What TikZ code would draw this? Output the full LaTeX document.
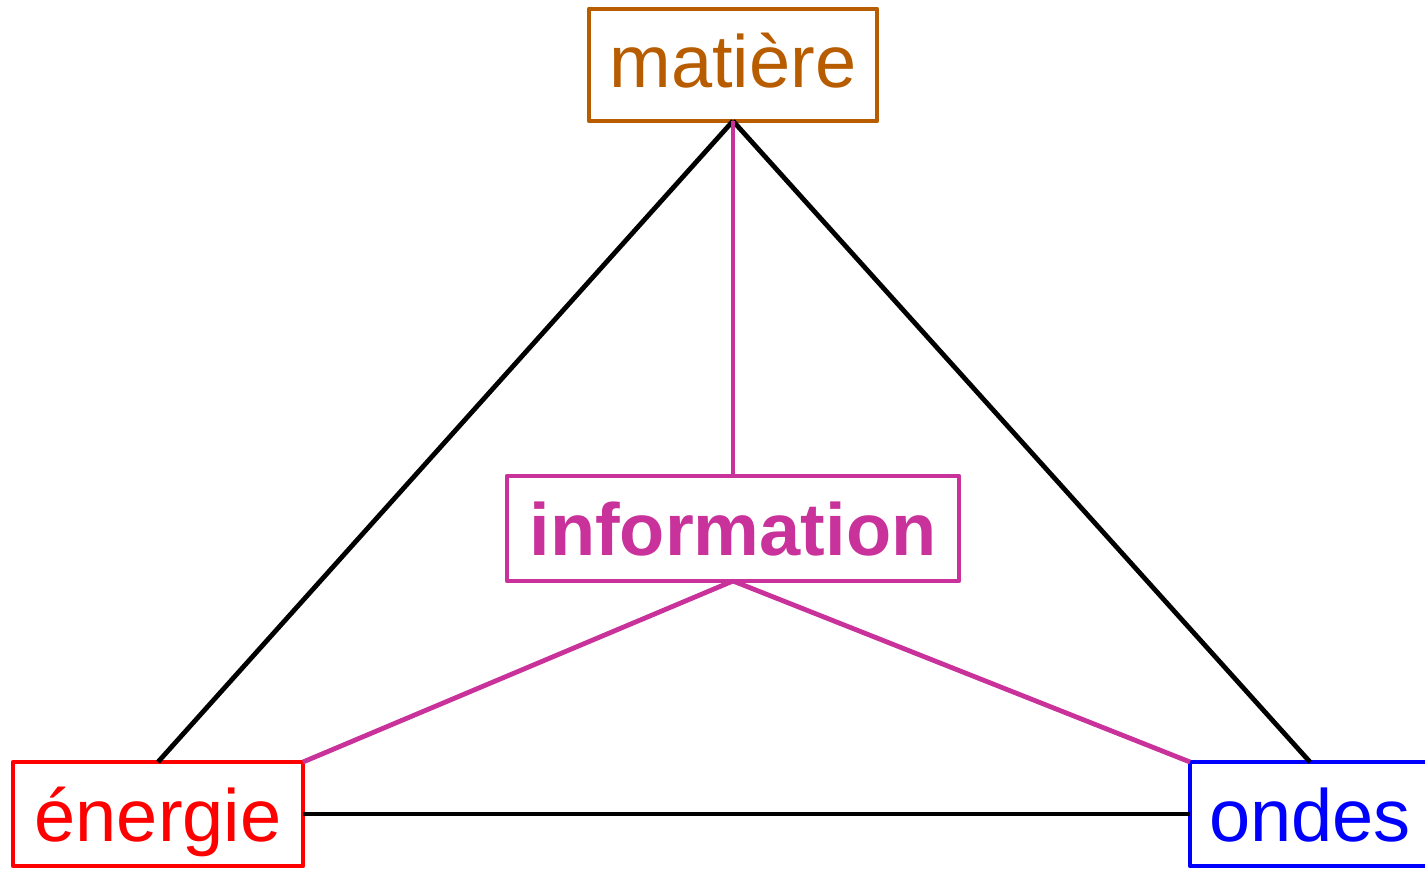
\documentclass[tikz,border=0pt]{standalone}
\usepackage{fontspec}
\setmainfont{Liberation Sans}
\definecolor{brun}{RGB}{184,92,0}
\definecolor{mag}{RGB}{200,50,154}
\definecolor{rouge}{RGB}{255,0,0}
\definecolor{bleu}{RGB}{0,0,255}
\begin{document}
\begin{tikzpicture}[x=0.5pt,y=-0.5pt,
  box/.style={draw,line width=2.4pt,line join=round,inner sep=0pt,outer sep=0pt,
    text depth=0pt,font=\fontsize{37pt}{40pt}\selectfont},
  blk/.style={line width=2.4pt,black},
  mgl/.style={line width=2.4pt,mag}]
\useasboundingbox (0,0) rectangle (1425,870);
\node[box,brun,minimum width=144pt,minimum height=56pt,text height=23pt] (mat) at (733,65) {matière};
\node[box,mag,minimum width=226pt,minimum height=52.5pt,text height=27pt,font=\fontsize{37pt}{40pt}\selectfont\bfseries] (inf) at (733,528.5) {information};
\node[box,rouge,minimum width=145pt,minimum height=52pt,text height=28pt] (ene) at (158,814) {énergie};
\node[box,bleu,minimum width=120pt,minimum height=52pt,text height=28pt] (ond) at (1310,814) {ondes};
\draw[blk] (mat.south) -- (ene.north);
\draw[blk] (mat.south) -- (ond.north);
\draw[blk] (ene.east) -- (ond.west);
\draw[mgl] (mat.south) -- (inf.north);
\draw[mgl] (inf.south) -- (ene.north east);
\draw[mgl] (inf.south) -- (ond.north west);
\end{tikzpicture}
\end{document}
